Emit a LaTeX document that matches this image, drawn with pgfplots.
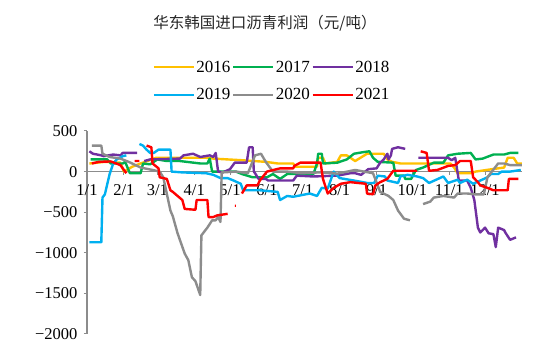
\documentclass[border=0pt]{standalone}
\usepackage{pgfplots}
\pgfplotsset{compat=1.18}
\usepackage{fontspec}
\setmainfont{Liberation Serif}
\newfontfamily\cjk{Noto Sans CJK SC}
\definecolor{c16}{HTML}{FFC000}
\definecolor{c17}{HTML}{00B050}
\definecolor{c18}{HTML}{7030A0}
\definecolor{c19}{HTML}{00B0F0}
\definecolor{c20}{HTML}{8C8C8C}
\definecolor{c21}{HTML}{FF0000}
\begin{document}
\begin{tikzpicture}
\path[use as bounding box] (0,0) rectangle (550pt,356pt);
\node[font=\cjk\fontsize{15.5}{17}\selectfont, text=black!85] at (265pt,333pt) {华东韩国进口沥青利润（元/吨）};
\begin{axis}[
  at={(87pt,22pt)}, anchor=south west,
  scale only axis, width=435pt, height=203pt,
  xmin=0, xmax=365, ymin=-2000, ymax=500,
  axis x line*=middle, axis y line*=left,
  hide obscured x ticks=false, hide obscured y ticks=false,
  axis line style={draw=c20, line width=1.5pt, -},
  xtick={0,31,59,90,120,151,181,212,243,273,304,334},
  xticklabels={1/1,2/1,3/1,4/1,5/1,6/1,7/1,8/1,9/1,10/1,11/1,12/1},
  ytick={-2000,-1500,-1000,-500,0,500},
  yticklabels={−2000,−1500,−1000,−500,0,500},
  tick align=outside, major tick length=3pt,
  tick style={draw=c20, line width=1pt},
  ticklabel style={font=\fontsize{16.5}{18}\selectfont},
  xticklabel style={yshift=-6pt},
  yticklabel style={xshift=-3pt},
  unbounded coords=jump,
  every axis plot/.append style={line width=2.4pt, line join=round},
  legend style={at={(0.4245,1.246)}, anchor=center, draw=none, fill=none,
    font=\fontsize{17}{19}\selectfont, legend columns=3,
    /tikz/every even column/.append style={column sep=0pt},
    row sep=12pt, nodes={inner sep=1.5pt}},
  legend image code/.code={\draw[#1, line width=2.4pt] (0pt,0pt) -- (40pt,0pt);},
]
\addplot[c16] coordinates {(2,100)(15,120)(28,110)(31,0)(38,60)(45,100)(58,170)(80,170)(100,170)(106,160)(130,140)(150,120)(160,100)(173,100)(175,60)(185,60)(193,60)(194,170)(198,170)(200,100)(210,120)(213,200)(218,200)(225,130)(235,220)(249,220)(252,150)(256,120)(263,100)(274,100)(290,100)(305,100)(308,50)(311,-20)(322,-20)(326,0)(340,30)(350,50)(353,170)(358,170)(361,100)(365,100)};
\addlegendentry{2016}
\addplot[c17] coordinates {(3,150)(17,150)(20,100)(30,100)(32,120)(36,-20)(45,-20)(47,100)(53,90)(59,150)(67,130)(78,130)(95,100)(101,100)(103,160)(105,0)(125,0)(130,-30)(139,-70)(151,-70)(156,-30)(162,-90)(168,-30)(190,-30)(193,100)(194,220)(197,220)(198,100)(210,110)(218,150)(224,220)(232,240)(237,250)(240,170)(244,120)(257,110)(259,-50)(266,-50)(267,-90)(272,-90)(276,20)(282,50)(291,110)(299,110)(303,200)(311,220)(322,230)(326,150)(332,160)(341,210)(350,210)(355,230)(362,230)};
\addlegendentry{2017}
\addplot[c18] coordinates {(2,250)(5,220)(12,200)(14,190)(22,210)(28,200)(30,230)(42,230)(45,nan)(48,130)(53,150)(78,160)(81,200)(89,220)(95,180)(103,200)(106,180)(108,230)(110,0)(114,-10)(120,30)(124,110)(134,110)(136,300)(139,300)(140,0)(141,-20)(144,-90)(150,-90)(152,-110)(173,-110)(176,-50)(190,-60)(210,-50)(221,-20)(225,-20)(230,-40)(236,30)(243,40)(246,110)(249,150)(252,220)(253,150)(255,200)(256,280)(261,300)(267,280)(270,nan)(278,170)(303,170)(306,140)(309,170)(312,-110)(319,-110)(322,-200)(325,-350)(328,-690)(330,-750)(334,-690)(337,-760)(341,-770)(343,-930)(345,-690)(350,-720)(351,-750)(355,-840)(360,-810)};
\addlegendentry{2018}
\addplot[c19] coordinates {(2,-870)(12,-870)(13,-320)(15,-280)(19,-30)(22,100)(25,150)(30,190)(33,200)(38,nan)(44,340)(47,320)(50,270)(53,230)(56,230)(60,270)(70,270)(71,0)(80,-10)(100,-20)(106,-40)(112,-80)(118,-80)(123,-110)(129,-150)(131,-230)(145,-230)(160,-250)(162,-350)(168,-300)(173,-310)(187,-270)(193,-300)(197,-200)(202,-210)(207,0)(212,-80)(224,-110)(235,-140)(241,-140)(244,-50)(250,-60)(252,-110)(261,-140)(263,-60)(269,-40)(277,-60)(282,-80)(287,-140)(299,-60)(303,-140)(311,-100)(313,-140)(319,-100)(324,-150)(330,-110)(336,-70)(339,-30)(345,-30)(348,0)(355,0)(364,20)};
\addlegendentry{2019}
\addplot[c20] coordinates {(4,320)(12,320)(13,220)(19,180)(28,160)(35,120)(45,50)(55,20)(61,0)(64,-70)(70,-480)(72,-550)(76,-760)(82,-1010)(85,-1090)(88,-1300)(91,-1350)(95,-1520)(96,-785)(101,-690)(105,-600)(108,-600)(110,-560)(112,-620)(113,-10)(125,0)(135,-20)(141,200)(146,220)(150,120)(156,0)(168,0)(180,-20)(195,-10)(210,-25)(225,20)(240,-20)(246,-250)(253,-300)(257,-350)(261,-480)(266,-580)(271,-600)(276,nan)(282,-400)(288,-370)(291,-320)(299,-300)(308,-320)(311,-270)(319,-270)(326,-280)(333,-280)(336,-70)(345,100)(350,100)(355,80)(365,80)};
\addlegendentry{2020}
\addplot[c21] coordinates {(4,100)(10,120)(20,125)(28,80)(30,40)(33,-20)(36,nan)(40,130)(44,130)(47,nan)(50,320)(54,300)(55,100)(60,40)(61,-70)(67,-90)(70,-230)(72,-250)(76,-300)(80,-350)(82,-460)(91,-470)(92,-350)(101,-350)(102,-560)(106,-560)(109,-540)(118,-520)(121,nan)(124,-420)(125,-420)(127,nan)(130,-270)(134,-170)(143,-170)(145,-110)(151,0)(162,40)(173,40)(174,70)(179,110)(196,110)(198,-90)(202,-270)(207,-200)(213,-150)(221,-130)(234,-150)(235,-270)(240,-280)(242,-170)(246,-130)(252,-90)(257,10)(277,10)(278,nan)(280,250)(285,230)(287,10)(294,20)(303,70)(309,80)(313,130)(322,130)(324,-70)(328,-130)(330,-170)(336,-200)(341,-230)(353,-230)(354,-90)(362,-90)};
\addlegendentry{2021}
\end{axis}
\end{tikzpicture}
\end{document}
